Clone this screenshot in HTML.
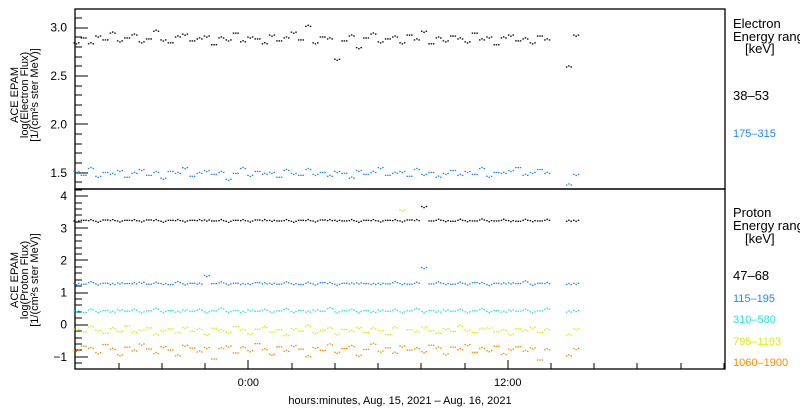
<!DOCTYPE html>
<html><head><meta charset="utf-8"><style>
body{margin:0;background:#fff;}
svg{display:block;font-family:"Liberation Sans",sans-serif;}
</style></head><body>
<svg id="chart" width="800" height="410" xmlns="http://www.w3.org/2000/svg">
<g id="g-top"></g>
<g id="g-bot"></g>
<g font-size="11" text-anchor="middle">
<text transform="translate(18,95) rotate(-90)">ACE EPAM</text>
<text transform="translate(28,95) rotate(-90)">log(Electron Flux)</text>
<text transform="translate(38,95) rotate(-90)">[1/(cm²s ster MeV)]</text>
</g>
<g font-size="11" text-anchor="middle">
<text transform="translate(18,280) rotate(-90)">ACE EPAM</text>
<text transform="translate(28,280) rotate(-90)">log(Proton Flux)</text>
<text transform="translate(38,280) rotate(-90)">[1/(cm²s ster MeV)]</text>
</g>
<g font-size="13">
<text x="733" y="28">Electron</text>
<text x="733" y="41">Energy ranges</text>
<text x="745" y="53">[keV]</text>
<text x="733" y="100" fill="#000">38–53</text>
<text x="733" y="137" fill="#1e88ff" font-size="11">175–315</text>
</g>
<g font-size="13">
<text x="733" y="217">Proton</text>
<text x="733" y="230">Energy ranges</text>
<text x="745" y="243">[keV]</text>
<text x="733" y="280">47–68</text>
<text x="733" y="302" fill="#1e88ff" font-size="11">115–195</text>
<text x="733" y="323" fill="#2ae6d2" font-size="11">310–580</text>
<text x="733" y="345" fill="#d8f000" font-size="11">795–1193</text>
<text x="733" y="366" fill="#ff8c00" font-size="11">1060–1900</text>
</g>
<text x="400" y="404" font-size="11" text-anchor="middle">hours:minutes, Aug. 15, 2021 – Aug. 16, 2021</text>
</svg>
<script>
const tStart = -8, tStep = 0.335;
const xTickHours = [-8,-6,-4,-2,0,2,4,6,8,10,12,14,16,18,20,22];
const xTickLabels = {0:"0:00",12:"12:00"};
const topTicks = [1.5,2.0,2.5,3.0];
const botTicks = [-1,0,1,2,3,4];
const e1 = [2.85,2.90,2.84,2.92,2.88,2.95,2.87,2.90,2.93,2.86,2.89,2.97,2.88,2.85,2.91,2.94,2.87,2.89,2.92,2.83,2.90,2.88,2.95,2.86,2.91,2.89,2.84,2.93,2.87,2.90,2.96,2.88,3.02,2.85,2.91,2.89,2.68,2.87,2.92,2.80,2.90,2.94,2.86,2.89,2.91,2.85,2.93,2.88,2.97,2.84,2.90,2.87,2.92,2.89,2.86,2.95,2.88,2.91,2.83,2.90,2.93,2.87,2.89,2.85,2.92,2.88,null,null,2.60,2.93];
const e2 = [1.52,1.48,1.55,1.47,1.51,1.49,1.53,1.46,1.50,1.54,1.48,1.51,1.45,1.52,1.50,1.56,1.47,1.50,1.53,1.49,1.51,1.44,1.50,1.55,1.48,1.52,1.49,1.51,1.46,1.53,1.50,1.48,1.54,1.49,1.51,1.47,1.52,1.50,1.45,1.53,1.49,1.51,1.56,1.48,1.50,1.52,1.47,1.54,1.49,1.51,1.46,1.50,1.53,1.48,1.52,1.49,1.55,1.47,1.51,1.50,1.53,1.56,1.48,1.51,1.54,1.50,null,null,1.38,1.49];
const p1 = [3.25,3.27,3.26,3.24,3.28,3.26,3.25,3.27,3.26,3.25,3.28,3.26,3.24,3.27,3.26,3.25,3.27,3.26,3.28,3.25,3.26,3.24,3.27,3.26,3.25,3.28,3.26,3.27,3.25,3.26,3.24,3.27,3.26,3.25,3.28,3.26,3.27,3.25,3.26,3.24,3.27,3.26,3.25,3.27,3.26,3.25,3.28,3.26,3.70,3.25,3.27,3.26,3.24,3.27,3.26,3.25,3.28,3.26,3.25,3.27,3.26,3.24,3.27,3.26,3.25,3.27,null,null,3.24,3.27];
const p2 = [1.30,1.28,1.33,1.29,1.31,1.27,1.32,1.30,1.29,1.34,1.28,1.31,1.30,1.27,1.33,1.29,1.31,1.28,1.55,1.30,1.32,1.29,1.31,1.27,1.30,1.33,1.29,1.31,1.28,1.32,1.30,1.27,1.31,1.29,1.33,1.30,1.28,1.31,1.29,1.32,1.30,1.27,1.31,1.29,1.33,1.30,1.28,1.31,1.80,1.29,1.32,1.30,1.28,1.31,1.29,1.33,1.30,1.27,1.31,1.29,1.32,1.30,1.35,1.28,1.31,1.30,null,null,1.27,1.31];
const p3 = [0.45,0.40,0.48,0.43,0.46,0.41,0.49,0.44,0.47,0.42,0.45,0.50,0.43,0.46,0.41,0.48,0.44,0.47,0.42,0.45,0.51,0.43,0.46,0.40,0.48,0.44,0.47,0.42,0.45,0.49,0.43,0.46,0.41,0.48,0.44,0.52,0.42,0.45,0.47,0.43,0.46,0.40,0.48,0.44,0.47,0.42,0.45,0.50,0.43,0.46,0.41,0.48,0.44,0.47,0.42,0.45,0.49,0.43,0.46,0.41,0.48,0.44,0.47,0.42,0.45,0.50,null,null,0.41,0.46];
const p4 = [-0.12,-0.20,-0.05,-0.15,-0.25,-0.10,-0.18,-0.02,-0.22,-0.14,-0.08,-0.30,-0.16,-0.11,-0.24,-0.06,-0.19,-0.13,-0.28,-0.09,-0.17,-0.21,-0.04,-0.15,-0.26,-0.12,-0.07,-0.20,-0.14,-0.32,-0.10,-0.18,-0.03,-0.23,-0.15,-0.09,-0.27,-0.13,-0.19,-0.06,-0.22,-0.11,-0.16,-0.29,-0.08,3.60,-0.14,-0.21,-0.05,-0.17,-0.25,-0.10,-0.19,-0.03,-0.15,-0.23,-0.12,-0.08,-0.20,-0.16,-0.27,-0.11,-0.18,-0.06,-0.22,-0.14,null,null,-0.30,-0.10];
const p5 = [-0.78,-0.65,-0.72,-0.85,-0.60,-0.75,-0.92,-0.68,-0.80,-0.58,-0.74,-0.88,-0.66,-0.77,-0.95,-0.62,-0.71,-0.83,-0.69,-1.05,-0.73,-0.64,-0.86,-0.70,-0.79,-0.57,-0.76,-0.90,-0.67,-0.81,-0.63,-0.74,-0.98,-0.69,-0.78,-0.61,-0.84,-0.72,-0.66,-0.93,-0.75,-0.59,-0.80,-0.70,-0.87,-0.64,-0.77,-0.73,-0.82,-0.62,-0.71,-0.89,-0.68,-0.76,-0.60,-0.84,-0.72,-0.79,-0.65,-0.91,-0.74,-0.67,-0.81,-0.70,-1.08,-0.76,null,null,-0.95,-0.72];

const X0=75,X1=725;
const xMin=-8.02, xMax=22.05;
const xs=t=>X0+(t-xMin)/(xMax-xMin)*(X1-X0);
const TOP={y0:9,y1:189,min:1.332,max:3.193};
const BOT={y0:189,y1:369,min:-1.38,max:4.225};
const ys=(p,v)=>p.y1-(v-p.min)/(p.max-p.min)*(p.y1-p.y0);
const NS="http://www.w3.org/2000/svg";
function mk(tag,attrs,parent){const e=document.createElementNS(NS,tag);for(const k in attrs)e.setAttribute(k,attrs[k]);parent.appendChild(e);return e;}

function panel(g,p,ticks,minorStep,labelFmt){
  const r=mk('rect',{x:X0,y:p.y0,width:X1-X0,height:p.y1-p.y0,fill:'none',stroke:'#000','stroke-width':1.3},g);
  
  
  const start=Math.ceil(p.min/minorStep-1e-9);
  for(let i=start;i*minorStep<=p.max+1e-9;i++){
    const v=i*minorStep;const y=ys(p,v);
    const major=ticks.some(t=>Math.abs(t-v)<1e-6);
    const l=mk('rect',{x:X0,y:Math.round(y)-0.5,width:(major?13:7),height:1,fill:'#000'},g);
    
    
  }
  ticks.forEach(v=>{
    const t=mk('text',{x:X0-8,y:ys(p,v)+4,'text-anchor':'end','font-size':12},g);
    
    
    t.textContent=labelFmt(v);
  });
}
function series(g,p,vals,color,name){
  const sg=mk('g',{fill:color},g);
  
  
  vals.forEach((v,i)=>{
    if(v===null)return;
    const t=tStart+i*tStep;
    for(let k=0;k<3;k++){
      const d=mk('rect',{x:xs(t)+k*2.3-2,y:ys(p,v+(k===1?0.006*(p.max-p.min)*((i%3)-1):0)),width:1.5,height:1.3},sg);
      
      
    }
  });
}
const gt=document.getElementById('g-top'), gb=document.getElementById('g-bot');
panel(gt,TOP,topTicks,0.1,v=>v.toFixed(1));
panel(gb,BOT,botTicks,0.2,v=>v<0?'−'+(-v):String(v));
series(gt,TOP,e1,'#000','series-electron-38-53');
series(gt,TOP,e2,'#1e88ff','series-electron-175-315');
series(gb,BOT,p1,'#000','series-proton-47-68');
series(gb,BOT,p2,'#1e88ff','series-proton-115-195');
series(gb,BOT,p3,'#2ae6d2','series-proton-310-580');
series(gb,BOT,p4,'#d8f000','series-proton-795-1193');
series(gb,BOT,p5,'#ff8c00','series-proton-1060-1900');
xTickHours.forEach(h=>{
  const x=xs(h);
  const major=(h in xTickLabels);
  const len=major?9:6;
  const l=mk('rect',{x:Math.round(x)-0.5,y:369-len,width:1,height:len,fill:'#000'},gb);
  
  
  if(major){
    const t=mk('text',{x:x,y:386,'text-anchor':'middle','font-size':11},gb);
    
    
    t.textContent=xTickLabels[h];
  }
});
</script>
</body></html>
